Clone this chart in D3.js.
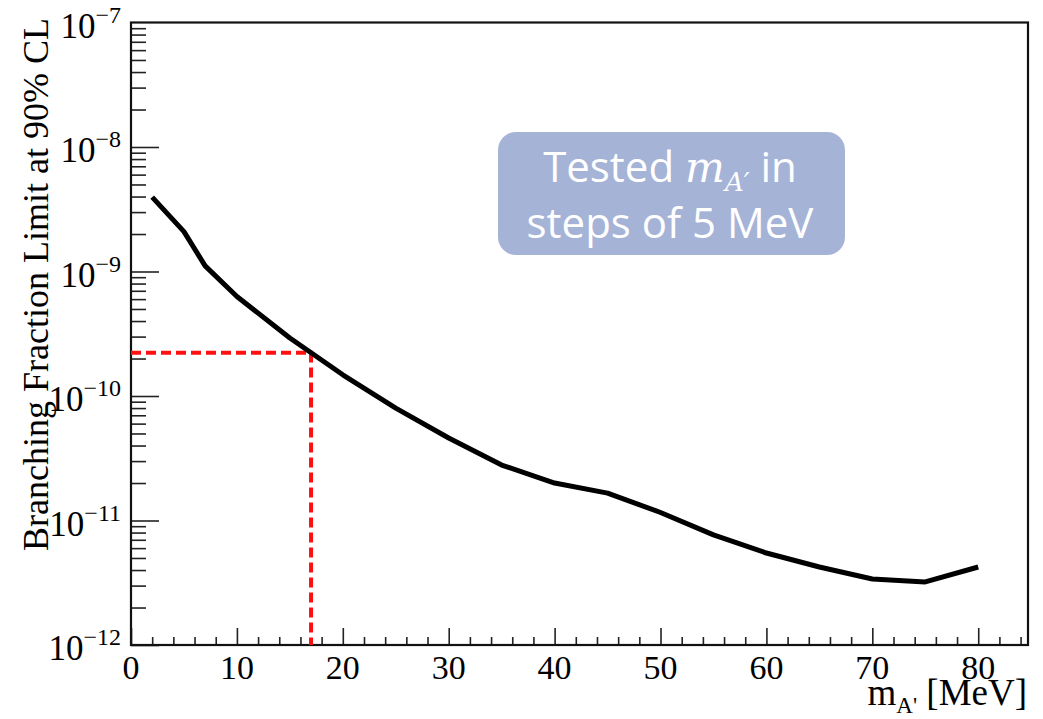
<!DOCTYPE html>
<html>
<head>
<meta charset="utf-8">
<script src="https://cdn.jsdelivr.net/npm/d3@7"></script>
<style>
  body { margin: 0; background: #fff; }
  svg { display: block; }
</style>
</head>
<body>
<svg width="1043" height="719"></svg>
<script>
// mass points (MeV) and the 90% CL limit
const massValues = [2, 5, 7, 10, 15, 20, 25, 30, 35, 40, 45, 50, 55, 60, 65, 70, 75, 80];
const limitValues = [3.96e-9, 2.09e-9, 1.11e-9, 6.3e-10, 2.92e-10, 1.48e-10, 8.0e-11, 4.6e-11,
  2.79e-11, 2.0e-11, 1.66e-11, 1.16e-11, 7.66e-12, 5.48e-12, 4.23e-12, 3.39e-12, 3.21e-12, 4.23e-12];
const xMajorTicks = [0, 10, 20, 30, 40, 50, 60, 70, 80];
const yDecades = [-12, -11, -10, -9, -8, -7];
const markMass = [17];
const markLimit = [2.23e-10];
const boxLines = ['Tested', 'steps of 5 MeV'];

const svg = d3.select('svg');
const plotLeft = 131, plotRight = 1028, plotTop = 22.5, plotBottom = 645;

const x = d3.scaleLinear().domain([0, 84.7]).range([plotLeft, plotRight]);
const y = d3.scaleLog().domain([1e-12, 1e-7]).range([plotBottom, plotTop]);

const serif = '"Liberation Serif", "Times New Roman", serif';

// x axis: majors every 10, minors every 2
const xMinor = d3.range(0, 85, 2).filter(v => v % 10 !== 0);
svg.append('g')
  .attr('transform', `translate(0,${plotBottom})`)
  .call(d3.axisTop(x).tickValues(xMinor).tickSize(8).tickFormat(''))
  .call(g => g.select('.domain').remove());
svg.append('g')
  .attr('transform', `translate(0,${plotBottom})`)
  .call(d3.axisTop(x).tickValues(xMajorTicks).tickSize(17).tickFormat(''))
  .call(g => g.select('.domain').remove());
svg.selectAll('.tick line').attr('stroke', '#222').attr('stroke-width', 1.6);

svg.append('g').selectAll('text')
  .data(xMajorTicks)
  .enter()
  .append('text')
  .attr('x', d => x(d))
  .attr('y', 679)
  .attr('text-anchor', 'middle')
  .style('font-family', serif)
  .style('font-size', '34px')
  .text(d => d);

// y axis: decades with 2..9 minors
const yMinor = [];
yDecades.slice(0, -1).forEach(e => {
  for (let k = 2; k <= 9; k++) yMinor.push(k * Math.pow(10, e));
});
const yMajor = yDecades.map(e => Math.pow(10, e));
svg.append('g')
  .attr('transform', `translate(${plotLeft},0)`)
  .call(d3.axisRight(y).tickValues(yMinor).tickSize(15).tickFormat(''))
  .call(g => g.select('.domain').remove())
  .selectAll('line').attr('stroke', '#222').attr('stroke-width', 1.6);
svg.append('g')
  .attr('transform', `translate(${plotLeft},0)`)
  .call(d3.axisRight(y).tickValues(yMajor.slice(0, -1)).tickSize(28).tickFormat(''))
  .call(g => g.select('.domain').remove())
  .selectAll('line').attr('stroke', '#222').attr('stroke-width', 1.6);

const yLabels = svg.append('g').selectAll('text')
  .data(yDecades)
  .enter()
  .append('text')
  .attr('x', 121)
  .attr('y', d => y(Math.pow(10, d)) + 15)
  .attr('text-anchor', 'end')
  .style('font-family', serif)
  .style('font-size', '35px');
yLabels.append('tspan').text('10');
yLabels.append('tspan')
  .attr('dy', -15)
  .style('font-size', '24px')
  .text(d => '\u2212' + Math.abs(d));

// frame
svg.append('rect')
  .attr('x', plotLeft).attr('y', plotTop)
  .attr('width', plotRight - plotLeft).attr('height', plotBottom - plotTop)
  .attr('fill', 'none')
  .attr('stroke', '#111')
  .attr('stroke-width', 2.2);

// red dashed guide lines
svg.append('path')
  .attr('d', d3.line()([
    [x(0), y(markLimit[0])],
    [x(markMass[0]), y(markLimit[0])],
    [x(markMass[0]), y(1e-12)]
  ]))
  .attr('fill', 'none')
  .attr('stroke', '#ff1010')
  .attr('stroke-width', 4)
  .attr('stroke-dasharray', '10,5');

// limit curve
const points = massValues.map((m, i) => [m, limitValues[i]]);
svg.append('path')
  .datum(points)
  .attr('d', d3.line().x(d => x(d[0])).y(d => y(d[1])))
  .attr('fill', 'none')
  .attr('stroke', '#000')
  .attr('stroke-width', 5)
  .attr('stroke-linejoin', 'round');

// axis titles
svg.append('text')
  .attr('transform', 'translate(48,18) rotate(-90)')
  .attr('text-anchor', 'end')
  .style('font-family', serif)
  .style('font-size', '36px')
  .text('Branching Fraction Limit at 90% CL');

const xTitle = svg.append('text')
  .attr('x', 1027)
  .attr('y', 705)
  .attr('text-anchor', 'end')
  .style('font-family', serif)
  .style('font-size', '37px');
xTitle.append('tspan').text('m');
xTitle.append('tspan').attr('dy', 8).style('font-size', '23px').text("A'");
xTitle.append('tspan').attr('dy', -8).text(' [MeV]');

// annotation box
svg.append('rect')
  .attr('x', 498).attr('y', 132)
  .attr('width', 347).attr('height', 123)
  .attr('rx', 18)
  .attr('fill', '#a5b3d7');

const sans = '"Open Sans", Lato, sans-serif';
const line1 = svg.append('text')
  .attr('x', 670)
  .attr('y', 182)
  .attr('text-anchor', 'middle')
  .attr('fill', '#fff')
  .style('font-family', sans)
  .style('font-size', '42px');
line1.append('tspan').text(boxLines[0] + ' ');
line1.append('tspan')
  .style('font-family', '"DejaVu Serif", serif')
  .style('font-style', 'italic')
  .text('m');
line1.append('tspan')
  .attr('dy', 9)
  .style('font-family', '"DejaVu Serif", serif')
  .style('font-style', 'italic')
  .style('font-size', '26px')
  .text('A\u2032');
line1.append('tspan').attr('dy', -9).text(' in');

svg.append('text')
  .attr('x', 670)
  .attr('y', 238)
  .attr('text-anchor', 'middle')
  .attr('fill', '#fff')
  .style('font-family', sans)
  .style('font-size', '42px')
  .text(boxLines[1]);
</script>
</body>
</html>
